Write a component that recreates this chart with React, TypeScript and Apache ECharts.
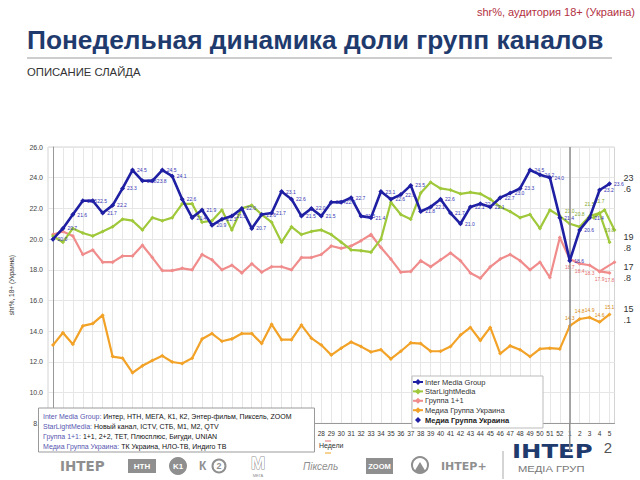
import React, { useEffect, useRef } from 'react';
import * as echarts from 'echarts';

const weeks = ['1','2','3','4','5','6','7','8','9','10','11','12','13','14','15','16','17','18','19','20','21','22','23','24','25','26','27','28','29','30','31','32','33','34','35','36','37','38','39','40','41','42','43','44','45','46','47','48','49','50','51','52','1','2','3','4','5'];

const seriesNames = ['Inter Media Group', 'StarLightMedia', 'Группа 1+1', 'Медиа Группа Украина'];

const interMedia = [20.0,20.7,21.6,22.5,22.5,21.7,22.2,23.3,24.5,23.8,23.8,24.5,24.1,22.6,21.4,21.9,20.9,21.3,21.5,22.0,20.7,21.6,21.7,23.1,22.6,21.5,22.0,21.5,22.4,22.4,22.7,21.5,21.4,23.1,22.6,22.9,23.5,21.8,22.1,22.6,21.7,21.0,22.1,22.3,22.1,22.7,23.0,23.3,24.5,24.2,24.0,21.4,18.6,20.6,21.4,23.2,23.6];
const starLight = [20.2,19.8,20.7,20.4,20.2,20.5,20.8,21.3,21.2,20.6,21.4,21.2,21.4,22.3,22.3,21.1,21.2,21.9,20.6,22.0,22.2,21.6,21.1,19.8,20.8,20.3,20.5,20.6,20.3,19.8,19.3,19.25,19.15,20.0,22.4,21.6,21.3,23.0,23.7,23.3,23.2,22.95,23.05,22.95,22.6,22.1,21.8,21.4,21.6,20.7,21.9,21.5,21.0,20.8,21.5,21.7,19.8];
const group11 = [20.3,20.5,20.2,19.0,19.3,18.5,18.5,18.9,18.9,19.6,18.8,17.95,17.95,18.1,18.0,19.0,18.65,18.0,18.3,17.8,18.4,17.85,18.2,18.2,18.0,18.8,18.8,19.0,19.55,19.4,19.55,19.9,20.3,19.45,18.7,17.85,17.9,18.6,18.2,18.65,19.1,18.6,17.8,17.45,18.2,18.7,19.0,18.6,18.0,18.5,17.5,20.1,18.7,18.4,18.3,17.9,17.8];
const mediaGroupUkraine = [13.1,13.9,13.15,14.35,14.5,15.05,12.35,12.25,11.3,11.75,12.1,12.4,12.0,11.9,12.25,13.5,13.85,13.35,13.5,13.85,13.85,13.2,14.45,13.45,13.45,14.4,13.55,13.1,12.45,12.9,13.3,13.0,12.65,12.8,12.2,12.7,13.25,13.2,12.7,12.7,13.0,13.75,14.25,13.4,14.25,12.55,13.05,12.8,12.35,12.85,12.9,12.85,14.35,14.8,14.9,14.6,15.1];

// secondary (shifted) traces visible after the year break
const ghostStarLight = [[54.4, 21.4], [55.5, 21.9], [56.5, 20.6]];
const ghostGroup11 = [[55.0, 17.9], [56.5, 18.5]];

const yearBreakIndex = 52;
const labelFromIndex = 52;
const firstVisibleWeekLabel = 27; // earlier week labels sit behind the footnote box

const footnotes = [
  ['Inter Media Group:', 'Интер, НТН, МЕГА, К1, К2, Энтер-фильм, Пиксель, ZOOM'],
  ['StarLightMedia:', 'Новый канал, ICTV, СТБ, М1, М2, QTV'],
  ['Группа 1+1:', '1+1, 2+2, ТЕТ, Плюсплюс, Бигуди, UNIAN'],
  ['Медиа Группа Украина:', 'ТК Украина, НЛО-ТВ, Индиго ТВ'],
];

const COLORS = ['#1f1fa3', '#9fc83a', '#f08c8c', '#f2a227'];
const FONT = 'Liberation Sans, Arial, sans-serif';

function endFmt(p: any) {
  const s = Number(Array.isArray(p.value) ? p.value[1] : p.value).toFixed(1);
  const parts = s.split('.');
  return parts[0] + '\n.' + parts[1];
}

function lateLabels(values: number[], position: string, color: string, distance: number) {
  return values.map((v, i) =>
    i >= labelFromIndex
      ? { value: v, label: { show: true, position, distance, color, fontSize: 5, formatter: (p: any) => Number(p.value).toFixed(1) } }
      : v
  );
}

export default function App() {
  const ref = useRef<HTMLDivElement>(null);
  useEffect(() => {
    if (!ref.current) return;
    const chart = echarts.init(ref.current, null, { renderer: 'svg' });
    const gray = '#8f8f8f';
    const Z = 200;
    const footnoteTexts = footnotes.map((f, i) => ({
      type: 'text', z: Z + 1, x: 43, y: 416.5 + i * 9.9,
      style: {
        text: '{n|' + f[0] + '} {t|' + f[1] + '}',
        verticalAlign: 'middle',
        fontFamily: FONT,
        fontSize: 7,
        rich: { n: { fill: '#5656b0', fontSize: 7, fontFamily: FONT }, t: { fill: '#111', fontSize: 7, fontFamily: FONT } },
      },
    }));
    const legendItems: any[] = [];
    seriesNames.forEach((name, i) => {
      const y = 382 + i * 9.4;
      legendItems.push({ type: 'line', z: Z, shape: { x1: 413, y1: y, x2: 423, y2: y }, style: { stroke: COLORS[i], lineWidth: 2 } });
      legendItems.push({ type: 'polygon', z: Z + 1, shape: { points: [[418, y - 3], [421, y], [418, y + 3], [415, y]] }, style: { fill: COLORS[i] } });
      legendItems.push({ type: 'text', z: Z + 1, x: 425, y, style: { text: name, fill: '#333', fontSize: 7.5, fontFamily: FONT, verticalAlign: 'middle' } });
    });
    const option: any = {
      animation: false,
      backgroundColor: '#fff',
      textStyle: { fontFamily: FONT },
      grid: { left: 42.5, right: 25.5, top: 147, bottom: 56.6, show: true, borderColor: '#d4d4d4', borderWidth: 1, containLabel: false },
      legend: { show: false, data: seriesNames },
      xAxis: [
        {
          type: 'category',
          data: weeks,
          boundaryGap: true,
          name: 'Недели',
          nameLocation: 'middle',
          nameGap: 19,
          nameTextStyle: { fontSize: 7, color: '#333' },
          axisLine: { lineStyle: { color: '#999' } },
          axisTick: { show: false },
          axisLabel: { interval: (i: number) => i >= firstVisibleWeekLabel, fontSize: 6.5, color: '#333', margin: 7 },
          splitLine: { show: true, interval: 0, alignWithLabel: true, lineStyle: { color: '#e6e6e6' } },
        },
        { type: 'value', min: -0.5, max: 56.5, show: false },
      ],
      yAxis: {
        type: 'value',
        min: 8,
        max: 26,
        interval: 2,
        name: 'shr%, 18+ (Украина)',
        nameLocation: 'middle',
        nameGap: 33,
        nameTextStyle: { fontSize: 6.5, color: '#333' },
        axisLine: { show: true, lineStyle: { color: '#999' } },
        axisTick: { show: false },
        axisLabel: { fontSize: 7, color: '#444', formatter: (v: number) => v.toFixed(1), margin: 5 },
        splitLine: { lineStyle: { color: '#e6e6e6' } },
      },
      series: [
        {
          name: seriesNames[0],
          type: 'line',
          data: interMedia,
          color: COLORS[0],
          symbol: 'diamond',
          symbolSize: 5,
          lineStyle: { width: 2.6 },
          z: 5,
          label: { show: true, position: 'right', distance: 2, fontSize: 5, color: '#3535b5', formatter: (p: any) => Number(p.value).toFixed(1) },
          endLabel: { show: true, formatter: endFmt, color: '#333', fontSize: 9, distance: 14, lineHeight: 11 },
          markLine: {
            silent: true,
            symbol: 'none',
            label: { show: false },
            lineStyle: { color: '#8c8c8c', width: 1.5, type: 'solid' },
            data: [{ xAxis: yearBreakIndex }],
          },
        },
        {
          name: seriesNames[1],
          type: 'line',
          data: lateLabels(starLight, 'top', '#7fa62a', 8),
          color: COLORS[1],
          symbol: 'diamond',
          symbolSize: 4,
          lineStyle: { width: 2.2 },
          z: 4,
          endLabel: { show: true, formatter: endFmt, color: '#333', fontSize: 9, distance: 14, lineHeight: 11 },
        },
        {
          name: seriesNames[2],
          type: 'line',
          data: lateLabels(group11, 'bottom', '#e46f6f', 3),
          color: COLORS[2],
          symbol: 'diamond',
          symbolSize: 4,
          lineStyle: { width: 2.2 },
          z: 3,
          endLabel: { show: true, formatter: endFmt, color: '#333', fontSize: 9, distance: 14, lineHeight: 11 },
        },
        {
          name: seriesNames[3],
          type: 'line',
          data: lateLabels(mediaGroupUkraine, 'top', '#d98a12', 3),
          color: COLORS[3],
          symbol: 'diamond',
          symbolSize: 4,
          lineStyle: { width: 2.2 },
          z: 3,
          endLabel: { show: true, formatter: endFmt, color: '#333', fontSize: 9, distance: 14, lineHeight: 11 },
        },
        {
          name: 'StarLightMedia (2)',
          type: 'line',
          xAxisIndex: 1,
          data: ghostStarLight,
          color: COLORS[1],
          symbol: 'diamond',
          symbolSize: 4,
          lineStyle: { width: 2.2 },
          z: 4,
        },
        {
          name: 'Группа 1+1 (2)',
          type: 'line',
          xAxisIndex: 1,
          data: ghostGroup11,
          color: COLORS[2],
          symbol: 'diamond',
          symbolSize: 4,
          lineStyle: { width: 2.2 },
          z: 3,
        },
      ],
      graphic: {
        elements: [
          { type: 'text', x: 635, y: 12, style: { text: 'shr%, аудитория 18+ (Украина)', fill: '#b3303f', fontSize: 11, fontFamily: FONT, align: 'right', verticalAlign: 'middle' } },
          { type: 'text', x: 27, y: 40, style: { text: 'Понедельная динамика доли групп каналов', fill: '#1f3b6e', fontSize: 26.3, fontWeight: 'bold', fontFamily: FONT, verticalAlign: 'middle' } },
          { type: 'line', shape: { x1: 27, y1: 58, x2: 612, y2: 58 }, style: { stroke: '#bdbdbd', lineWidth: 1.5 } },
          { type: 'text', x: 27, y: 72, style: { text: 'ОПИСАНИЕ СЛАЙДА', fill: '#333', fontSize: 11.3, fontFamily: FONT, verticalAlign: 'middle' } },
          { id: 'breakExt', type: 'line', z: Z, shape: { x1: 0, y1: 0, x2: 0, y2: 0 }, style: { stroke: '#8c8c8c', lineWidth: 1.5 } },
          { type: 'rect', z: Z - 1, shape: { x: 412, y: 376, width: 131, height: 52 }, style: { fill: '#fff', stroke: '#bbb', lineWidth: 1 } },
          ...legendItems,
          { type: 'text', z: Z, x: 425, y: 420, style: { text: 'Медиа Группа Украина', fill: '#222', fontSize: 7.5, fontWeight: 'bold', fontFamily: FONT, verticalAlign: 'middle' } },
          { type: 'polygon', z: Z, shape: { points: [[418, 417], [421, 420], [418, 423], [415, 420]] }, style: { fill: COLORS[0] } },
          { type: 'line', z: Z, shape: { x1: 325, y1: 441, x2: 331, y2: 441 }, style: { stroke: '#e46f6f', lineWidth: 1 } },
          { type: 'line', z: Z, shape: { x1: 325, y1: 453, x2: 331, y2: 453 }, style: { stroke: '#f2a227', lineWidth: 1 } },
          { type: 'rect', z: Z, shape: { x: 38.5, y: 408, width: 276, height: 44 }, style: { fill: '#fff', stroke: '#9a9a9a', lineWidth: 1 } },
          ...footnoteTexts,
          { type: 'text', x: 60, y: 466, style: { text: 'ІНТЕР', fill: gray, fontSize: 13.5, fontWeight: 'bold', fontFamily: 'DejaVu Sans', verticalAlign: 'middle' } },
          { type: 'rect', shape: { x: 128, y: 459, width: 28, height: 14 }, style: { fill: gray } },
          { type: 'text', x: 142, y: 466, style: { text: 'НТН', fill: '#fff', fontSize: 8, fontWeight: 'bold', fontFamily: FONT, align: 'center', verticalAlign: 'middle' } },
          { type: 'circle', shape: { cx: 178, cy: 466, r: 9 }, style: { fill: gray } },
          { type: 'text', x: 178, y: 466, style: { text: 'K1', fill: '#fff', fontSize: 8, fontWeight: 'bold', fontFamily: FONT, align: 'center', verticalAlign: 'middle' } },
          { type: 'text', x: 199, y: 466, style: { text: 'К', fill: gray, fontSize: 12, fontWeight: 'bold', fontFamily: FONT, verticalAlign: 'middle' } },
          { type: 'circle', shape: { cx: 219, cy: 466, r: 6.5 }, style: { fill: 'none', stroke: gray, lineWidth: 2 } },
          { type: 'text', x: 219, y: 466, style: { text: '2', fill: gray, fontSize: 9, fontWeight: 'bold', fontFamily: FONT, align: 'center', verticalAlign: 'middle' } },
          { type: 'text', x: 258, y: 463, style: { text: 'M', fill: '#fff', stroke: gray, lineWidth: 1, fontSize: 17, fontWeight: 'bold', fontFamily: FONT, align: 'center', verticalAlign: 'middle' } },
          { type: 'text', x: 258, y: 475, style: { text: 'МЕГА', fill: gray, fontSize: 4, fontFamily: FONT, align: 'center', verticalAlign: 'middle' } },
          { type: 'text', x: 303, y: 466, style: { text: 'Піксель', fill: gray, fontSize: 10, fontStyle: 'italic', fontFamily: FONT, verticalAlign: 'middle' } },
          { type: 'rect', shape: { x: 366, y: 458, width: 27, height: 16 }, style: { fill: gray } },
          { type: 'text', x: 379.5, y: 466, style: { text: 'ZOOM', fill: '#fff', fontSize: 7.5, fontWeight: 'bold', fontFamily: FONT, align: 'center', verticalAlign: 'middle' } },
          { type: 'circle', shape: { cx: 420, cy: 465, r: 8 }, style: { fill: 'none', stroke: gray, lineWidth: 2 } },
          { type: 'polygon', shape: { points: [[414, 472], [420, 462], [426, 472]] }, style: { fill: gray } },
          { type: 'text', x: 441, y: 466, style: { text: 'ІНТЕР+', fill: gray, fontSize: 11, fontWeight: 'bold', fontFamily: 'DejaVu Sans', verticalAlign: 'middle' } },
          { type: 'line', shape: { x1: 503, y1: 451, x2: 503, y2: 479 }, style: { stroke: '#aaa', lineWidth: 1 } },
          { type: 'text', x: 512, y: 451, scaleX: 1.22, style: { text: 'ІНТЕР', fill: '#1f3b6e', fontSize: 20, fontWeight: 'bold', fontFamily: 'DejaVu Sans', verticalAlign: 'middle' } },
          { type: 'text', x: 518, y: 469, scaleX: 1.18, style: { text: 'МЕДІА ГРУП', fill: '#777', fontSize: 9.5, fontFamily: FONT, verticalAlign: 'middle' } },
          { type: 'text', x: 608, y: 447, style: { text: '2', fill: '#555', fontSize: 15, fontFamily: FONT, align: 'center', verticalAlign: 'middle' } },
        ],
      },
    };
    chart.setOption(option);
    const bx = chart.convertToPixel({ xAxisIndex: 0 }, yearBreakIndex) as number;
    const by = chart.convertToPixel({ yAxisIndex: 0 }, 8) as number;
    if (isFinite(bx) && isFinite(by)) {
      chart.setOption({ graphic: { elements: [{ id: 'breakExt', shape: { x1: bx, y1: by, x2: bx, y2: 451 } }] } });
    }
    return () => chart.dispose();
  }, []);
  return <div ref={ref} style={{ position: 'fixed', left: 0, top: 0, width: 640, height: 480, background: '#fff' }} />;
}
